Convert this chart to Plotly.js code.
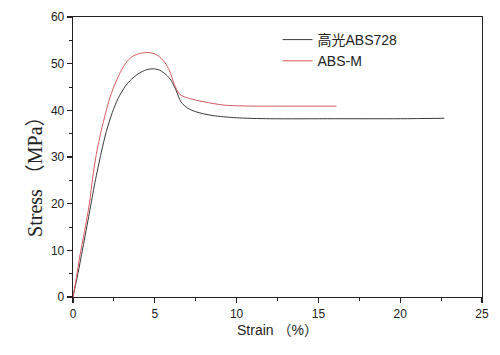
<!DOCTYPE html>
<html>
<head>
<meta charset="utf-8">
<script src="https://cdn.plot.ly/plotly-3.0.1.min.js"></script>
<style>html,body{margin:0;padding:0;background:#fff;}#chart{width:500px;height:355px;}</style>
</head>
<body>
<div id="chart"></div>
<script>
var seriesNames = ["高光ABS728", "ABS-M"];

var strainA = [0, 0.3, 0.6, 1.0, 1.34, 1.73, 2.04, 2.4, 2.75, 3.2, 3.5, 3.97, 4.5, 4.9, 5.3, 5.7, 6.0, 6.3, 6.6, 7.0, 7.5, 8.5, 10, 12, 16, 20, 22.7];
var stressA = [0, 5, 10.5, 18, 24.5, 31, 35.5, 39.5, 42.5, 45.2, 46.4, 47.8, 48.7, 48.9, 48.6, 47.6, 46.4, 44.3, 41.8, 40.5, 39.7, 38.9, 38.4, 38.2, 38.2, 38.2, 38.3];

var strainB = [0, 0.2, 0.41, 0.7, 1.0, 1.2, 1.42, 1.73, 2.0, 2.34, 2.8, 3.2, 3.57, 4.0, 4.5, 4.8, 5.2, 5.6, 5.9, 6.2, 6.5, 6.8, 7.5, 8.5, 9.3, 11, 13, 16.1];
var stressB = [0, 4, 8.6, 14, 20, 25.5, 30.5, 35.7, 39.5, 43.6, 47.5, 50, 51.4, 52.1, 52.4, 52.3, 51.7, 50.3, 48.5, 45.5, 43.5, 42.9, 42.2, 41.5, 41.1, 40.9, 40.9, 40.9];

var xTickVals = [0, 5, 10, 15, 20, 25];
var yTickVals = [0, 10, 20, 30, 40, 50, 60];

var traces = [
  {x: strainA, y: stressA, name: seriesNames[0], type: "scatter", mode: "lines",
   line: {color: "#3a3a3a", width: 1, shape: "spline", smoothing: 0.8}},
  {x: strainB, y: stressB, name: seriesNames[1], type: "scatter", mode: "lines",
   line: {color: "#d9595e", width: 1, shape: "spline", smoothing: 0.8}}
];

var axisCommon = {
  showgrid: false, zeroline: false, showline: true, linecolor: "#222", linewidth: 1.3,
  mirror: true, ticks: "outside", ticklen: 5, tickwidth: 1.2, tickcolor: "#222",
  tickfont: {family: "Liberation Sans, Arial, sans-serif", size: 12, color: "#222"}
};

var layout = {
  width: 500, height: 355,
  margin: {l: 73, r: 18, t: 17, b: 58},
  paper_bgcolor: "#fff", plot_bgcolor: "#fff",
  showlegend: true,
  legend: {x: 0.5, y: 0.975, xanchor: "left", yanchor: "top", bgcolor: "rgba(0,0,0,0)",
           font: {family: "Liberation Sans, Noto Sans CJK SC, sans-serif", size: 14, color: "#222"},
           tracegroupgap: 0, itemwidth: 30},
  xaxis: Object.assign({}, axisCommon, {
    range: [0, 25], tickvals: xTickVals, ticktext: xTickVals.map(String),
    minor: {ticks: "outside", ticklen: 3, dtick: 2.5, tick0: 0, tickcolor: "#222", tickwidth: 1},
    title: {text: "Strain （%）", standoff: 5,
            font: {family: "Liberation Sans, Noto Sans CJK SC, sans-serif", size: 14, color: "#222"}}
  }),
  yaxis: Object.assign({}, axisCommon, {
    range: [0, 60], tickvals: yTickVals, ticktext: yTickVals.map(String)
    , minor: {ticks: "outside", ticklen: 3, dtick: 5, tick0: 0, tickcolor: "#222", tickwidth: 1}
  }),
  annotations: [{
    text: "Stress （MPa）", xref: "paper", yref: "paper", x: -0.093, y: 0.45,
    xanchor: "center", yanchor: "middle", textangle: -90, showarrow: false,
    font: {family: "Liberation Serif, Times New Roman, Noto Sans CJK SC, serif", size: 20, color: "#222"}
  }]
};

Plotly.newPlot("chart", traces, layout, {displayModeBar: false, staticPlot: true});
</script>
</body>
</html>
